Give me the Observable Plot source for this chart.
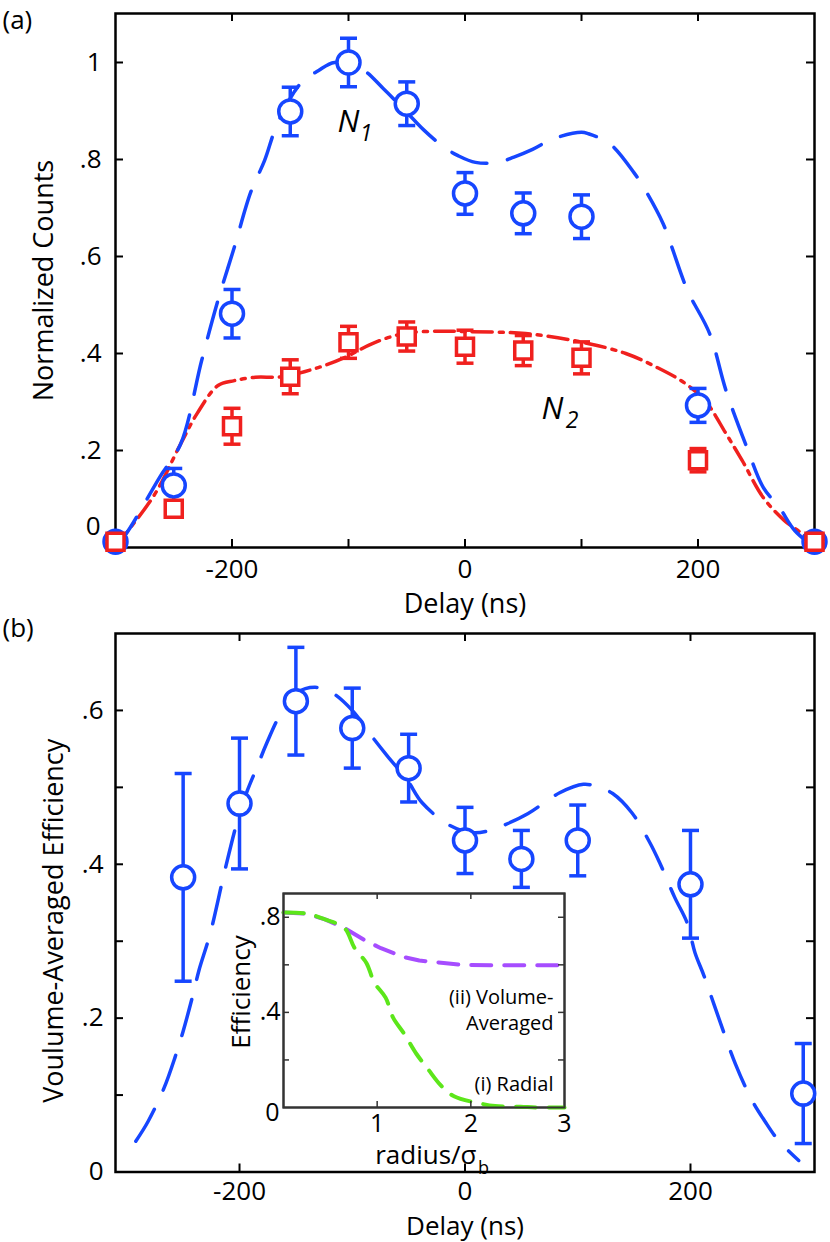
<!DOCTYPE html>
<html><head><meta charset="utf-8">
<script src="https://cdn.jsdelivr.net/npm/d3@7"></script>
<script src="https://cdn.jsdelivr.net/npm/@observablehq/plot@0.6"></script>
<style>
body{margin:0;background:#fff;}
#root{position:relative;width:830px;height:1242px;overflow:hidden;background:#fff;}
#root svg{position:absolute;overflow:visible;background:transparent !important;}
</style></head><body><div id="root"></div>
<script>
// ---------- Panel (a) data ----------
const delayA = [-300,-250,-200,-150,-100,-50,0,50,100,200,300];
const n1 = [0.012,0.128,0.482,0.899,1.0,0.915,0.73,0.689,0.682,0.293,0.012];
const n1Err = [0,0.035,0.05,0.05,0.05,0.045,0.043,0.042,0.045,0.035,0];
const n2 = [0.012,0.08,0.25,0.352,0.423,0.435,0.414,0.406,0.391,0.18,0.012];
const n2Err = [0,0.012,0.037,0.035,0.033,0.03,0.034,0.031,0.033,0.024,0];
const fitN1Delay = [-300,-289,-262,-244,-226,-212,-198,-184,-172,-161,-141,-126,-112,-89,-70,-46,-35,-19,-6,9,28,42,58,76,100,106,124,145,155,170,177,191,210,224,242,256,270,283,300];
const fitN1 = [0,0.035,0.145,0.214,0.386,0.51,0.619,0.732,0.798,0.874,0.957,0.983,1.0,0.987,0.946,0.887,0.86,0.827,0.808,0.794,0.794,0.805,0.821,0.843,0.856,0.853,0.833,0.773,0.736,0.668,0.623,0.53,0.441,0.324,0.206,0.124,0.082,0.035,0];
const fitN2Delay = [-300,-289,-266,-244,-230,-212,-198,-180,-157,-126,-103,-80,-53,-21,2,52,101,138,165,188,206,224,238,256,274,291,300];
const fitN2 = [0,0.035,0.111,0.214,0.276,0.334,0.344,0.351,0.352,0.371,0.392,0.42,0.441,0.446,0.445,0.441,0.423,0.40,0.371,0.34,0.303,0.235,0.179,0.103,0.056,0.025,0];
const xTicksA = [-200,-100,0,100,200];
const xLabelsA = [-200,0,200];
const yTicksA = [0.2,0.4,0.6,0.8,1.0];

// ---------- Panel (b) data ----------
const delayB = [-250,-200,-150,-100,-50,0,50,100,200,300];
const eff = [0.383,0.479,0.612,0.577,0.525,0.431,0.407,0.431,0.374,0.102];
const effErr = [0.135,0.085,0.07,0.052,0.044,0.043,0.037,0.046,0.07,0.065];
const fitEffDelay = [-292,-281,-267,-257,-250,-241,-236,-226,-213,-201,-193,-184,-176,-163,-149,-133,-118,-100,-83,-69,-51,-38,-14,7,22,38,56,84,105,117,131,148,164,173,186,197,204,212,222,240,255,266,278,296];
const fitEff = [0.04,0.066,0.109,0.15,0.183,0.232,0.262,0.31,0.392,0.461,0.496,0.528,0.557,0.597,0.623,0.63,0.623,0.60,0.567,0.541,0.509,0.48,0.451,0.441,0.444,0.453,0.466,0.493,0.504,0.501,0.492,0.467,0.428,0.401,0.357,0.324,0.285,0.255,0.213,0.14,0.092,0.066,0.041,0.015];
const xTicksB = [-200,0,200];
const yTicksB = [0.1,0.2,0.3,0.4,0.5,0.6];
const yLabelsB = [0,0.2,0.4,0.6];

// ---------- Inset data ----------
const radialR = [0,0.25,0.45,0.65,0.76,0.885,0.97,1.09,1.17,1.29,1.42,1.54,1.68,1.82,2.1,2.26,2.53,2.71,3.0];
const radialEff = [0.82,0.815,0.79,0.755,0.67,0.608,0.525,0.462,0.378,0.309,0.225,0.163,0.093,0.047,0.017,0.006,0.003,0,0];
const volR = [0,0.25,0.45,0.65,0.86,1.04,1.29,1.45,1.71,1.89,2.3,3.0];
const volEff = [0.82,0.815,0.79,0.755,0.705,0.67,0.632,0.618,0.608,0.6,0.598,0.598];
const insetXTicks = [1,2];
const insetXLabels = [1,2,3];
const insetYTicks = [0.2,0.4,0.6,0.8];
const insetYLabels = [0.4,0.8];

// ---------- helpers ----------
const BLUE = "#1646ff", RED = "#f0201e", PURPLE = "#a64dff", GREEN = "#5ce61a";
const FONT = "'Open Sans', 'Noto Sans', sans-serif";
const TICK_FS = 26, LABEL_FS = 27;
const fmtX = d => d < 0 ? "-" + Math.abs(d) : String(d);
const fmtY = d => d === 0 ? "0" : (Math.abs(d - 1) < 1e-9 ? "1" : d.toFixed(1).replace(/^0/, ""));
const capSymbol = {draw(ctx, size){ const r = Math.sqrt(size/Math.PI); ctx.moveTo(-r,0); ctx.lineTo(r,0); }};
const zip = (xs, ys, es) => xs.map((x,i) => ({x, y: ys[i], e: es ? es[i] : 0}));

function frameTicks(xt, yt, innerW, innerH, len, stroke, sw){
  return [
    Plot.tickX(xt, {x: d=>d, insetTop: innerH - len, stroke, strokeWidth: sw}),
    Plot.tickX(xt, {x: d=>d, insetBottom: innerH - len, stroke, strokeWidth: sw}),
    Plot.tickY(yt, {y: d=>d, insetRight: innerW - len, stroke, strokeWidth: sw}),
    Plot.tickY(yt, {y: d=>d, insetLeft: innerW - len, stroke, strokeWidth: sw})
  ];
}
function errorMarks(rows, color){
  const withErr = rows.filter(d => d.e > 0);
  return [
    Plot.ruleX(withErr, {x: "x", y1: d=>d.y-d.e, y2: d=>d.y+d.e, stroke: color, strokeWidth: 3.5}),
    Plot.dot(withErr, {x: "x", y: d=>d.y+d.e, symbol: capSymbol, r: 8.5, fill: "none", stroke: color, strokeWidth: 3.5}),
    Plot.dot(withErr, {x: "x", y: d=>d.y-d.e, symbol: capSymbol, r: 8.5, fill: "none", stroke: color, strokeWidth: 3.5})
  ];
}
const baseStyle = {fontFamily: FONT, fontSize: "26px", background: "transparent", overflow: "visible", color: "black"};
const root = document.getElementById("root");

// ---------- Panel (a) ----------
{
  const W = 830, H = 620, mL = 115, mR = 16, mT = 13, mB = 73;
  const iW = W - mL - mR, iH = H - mT - mB;
  const rows1 = zip(delayA, n1, n1Err), rows2 = zip(delayA, n2, n2Err);
  const svg = Plot.plot({
    width: W, height: H, marginLeft: mL, marginRight: mR, marginTop: mT, marginBottom: mB,
    style: baseStyle,
    x: {domain: [-300, 300]},
    y: {domain: [0, 1.101]},
    marks: [
      Plot.frame({stroke: "black", strokeWidth: 2.5}),
      ...frameTicks(xTicksA, yTicksA, iW, iH, 8, "black", 2),
      Plot.axisX(xLabelsA, {tickSize: 0, tickPadding: 12, tickFormat: fmtX, label: null, fontSize: TICK_FS}),
      Plot.axisY(yTicksA, {tickSize: 0, tickPadding: 14, tickFormat: fmtY, label: null, fontSize: TICK_FS}),
      Plot.text(["0"], {frameAnchor: "bottom-left", text: d=>d, dx: -15, dy: -13, textAnchor: "end", fontSize: TICK_FS}),
      Plot.line(zip(fitN2Delay, fitN2), {x: "x", y: "y", stroke: RED, strokeWidth: 3.5, strokeDasharray: "20,7,4,7", curve: "catmull-rom"}),
      Plot.line(zip(fitN1Delay, fitN1), {x: "x", y: "y", stroke: BLUE, strokeWidth: 3.5, strokeDasharray: "37,21", curve: "catmull-rom"}),
      ...errorMarks(rows1, BLUE),
      ...errorMarks(rows2, RED),
      Plot.dot(rows1, {x: "x", y: "y", r: 11.5, fill: "white", stroke: BLUE, strokeWidth: 3.5}),
      Plot.dot(rows2, {x: "x", y: "y", r: 9.6, symbol: "square", fill: "white", stroke: RED, strokeWidth: 3.5}),
      Plot.text(["N"], {x: -100, y: 0.903, text: d=>d, fontStyle: "italic", fontSize: 31, lineAnchor: "top"}),
      Plot.text(["1"], {x: -85, y: 0.872, text: d=>d, fontStyle: "italic", fontSize: 23, lineAnchor: "top"}),
      Plot.text(["N"], {x: 75, y: 0.311, text: d=>d, fontStyle: "italic", fontSize: 31, lineAnchor: "top"}),
      Plot.text(["2"], {x: 92, y: 0.28, text: d=>d, fontStyle: "italic", fontSize: 23, lineAnchor: "top"}),
      Plot.text(["Delay (ns)"], {frameAnchor: "bottom", text: d=>d, dy: 46, lineAnchor: "top", fontSize: LABEL_FS}),
      Plot.text(["Normalized Counts"], {frameAnchor: "left", text: d=>d, dx: -71, rotate: -90, textAnchor: "middle", fontSize: LABEL_FS}),
      Plot.text(["(a)"], {frameAnchor: "top-left", text: d=>d, dx: -113, dy: -3, textAnchor: "start", lineAnchor: "top", fontSize: 26})
    ]
  });
  svg.style.left = "0px"; svg.style.top = "0px";
  root.appendChild(svg);
}

// ---------- Panel (b) ----------
{
  const W = 830, H = 652, mL = 115, mR = 16, mT = 43, mB = 70.5;
  const iW = W - mL - mR, iH = H - mT - mB;
  const rows = zip(delayB, eff, effErr);
  const svg = Plot.plot({
    width: W, height: H, marginLeft: mL, marginRight: mR, marginTop: mT, marginBottom: mB,
    style: baseStyle,
    x: {domain: [-310, 310]},
    y: {domain: [0, 0.7]},
    marks: [
      Plot.frame({stroke: "black", strokeWidth: 2.5}),
      ...frameTicks(xTicksB, yTicksB, iW, iH, 8, "black", 2),
      Plot.axisX(xTicksB, {tickSize: 0, tickPadding: 10, tickFormat: fmtX, label: null, fontSize: TICK_FS}),
      Plot.axisY(yLabelsB, {tickSize: 0, tickPadding: 12, tickFormat: fmtY, label: null, fontSize: TICK_FS}),
      Plot.line(zip(fitEffDelay, fitEff), {x: "x", y: "y", stroke: BLUE, strokeWidth: 3.5, strokeDasharray: "37,21", curve: "catmull-rom"}),
      ...errorMarks(rows, BLUE),
      Plot.dot(rows, {x: "x", y: "y", r: 11.5, fill: "white", stroke: BLUE, strokeWidth: 3.5}),
      Plot.text(["Delay (ns)"], {frameAnchor: "bottom", text: d=>d, dy: 45, lineAnchor: "top", fontSize: 26}),
      Plot.text(["Voulume-Averaged Efficiency"], {frameAnchor: "left", text: d=>d, dx: -61, dy: 18, rotate: -90, textAnchor: "middle", fontSize: LABEL_FS}),
      Plot.text(["(b)"], {frameAnchor: "top-left", text: d=>d, dx: -113, dy: -15, textAnchor: "start", lineAnchor: "top", fontSize: 26})
    ]
  });
  svg.style.left = "0px"; svg.style.top = "590px";
  root.appendChild(svg);
}

// ---------- Inset ----------
{
  const W = 380, H = 330, mL = 83, mR = 16, mT = 43, mB = 73;
  const iW = W - mL - mR, iH = H - mT - mB;
  const svg = Plot.plot({
    width: W, height: H, marginLeft: mL, marginRight: mR, marginTop: mT, marginBottom: mB,
    style: baseStyle,
    x: {domain: [0, 3]},
    y: {domain: [0, 0.9]},
    marks: [
      Plot.frame({fill: "white", stroke: "#333", strokeWidth: 2}),
      Plot.line(zip(volR, volEff), {x: "x", y: "y", stroke: PURPLE, strokeWidth: 4, strokeDasharray: "20,13"}),
      Plot.line(zip(radialR, radialEff), {x: "x", y: "y", stroke: GREEN, strokeWidth: 4, strokeDasharray: "20,13", curve: "catmull-rom"}),
      Plot.frame({stroke: "#333", strokeWidth: 2}),
      ...frameTicks(insetXTicks, insetYTicks, iW, iH, 6, "#333", 1.5),
      Plot.axisX(insetXLabels, {tickSize: 0, tickPadding: 7, label: null, fontSize: 25}),
      Plot.axisY(insetYLabels, {tickSize: 0, tickPadding: 3, tickFormat: fmtY, label: null, fontSize: 25}),
      Plot.text(["0"], {frameAnchor: "bottom-left", text: d=>d, dx: -11, dy: 13, textAnchor: "middle", fontSize: 25}),
      Plot.text(["Efficiency"], {frameAnchor: "left", text: d=>d, dx: -42, dy: -8.5, rotate: -90, textAnchor: "middle", fontSize: 26}),
      Plot.text(["radius/σ"], {frameAnchor: "bottom", text: d=>d, dx: 52.5, dy: 38, textAnchor: "end", lineAnchor: "top", fontSize: 26}),
      Plot.text(["b"], {frameAnchor: "bottom", text: d=>d, dx: 54, dy: 54, textAnchor: "start", lineAnchor: "top", fontSize: 18}),
      Plot.text(["(ii) Volume-\nAveraged"], {frameAnchor: "top-right", text: d=>d, dx: -11, dy: 92, textAnchor: "end", lineAnchor: "top", lineHeight: 1.3, fontSize: 20}),
      Plot.text(["(i) Radial"], {frameAnchor: "top-right", text: d=>d, dx: -11, dy: 183, textAnchor: "end", lineAnchor: "top", fontSize: 20})
    ]
  });
  svg.style.left = "200px"; svg.style.top = "850px";
  root.appendChild(svg);
}
</script></body></html>
